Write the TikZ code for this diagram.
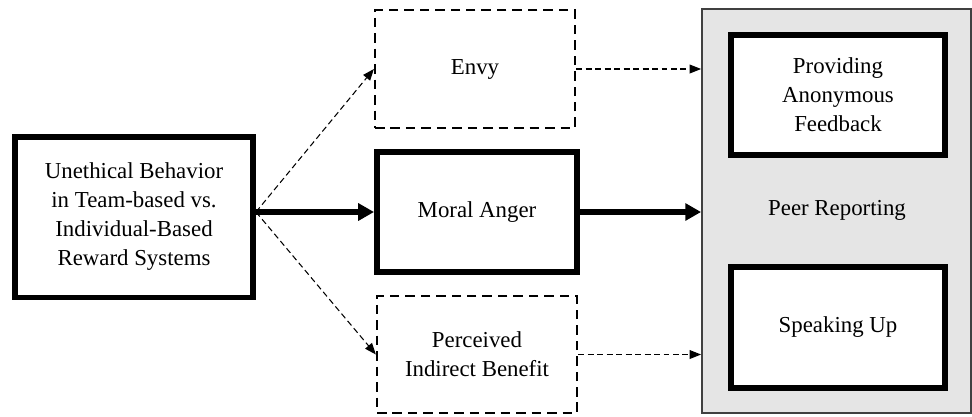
\documentclass[tikz,border=0pt]{standalone}
\usepackage{fontspec}
\setmainfont{Liberation Serif}
\usepackage{tikz}
\usetikzlibrary{arrows.meta}
\usetikzlibrary{positioning,calc}
\tikzset{
    solidbox/.style={
        draw,
        rectangle,
        fill=white,
        line width=3.4pt,
        align=center,
        inner sep=2pt
    },
    dashbox/.style={
        draw,
        rectangle,
        line width=1.3pt,
        dash pattern=on 5.4pt off 3.4pt,
        align=center,
        minimum width=4cm
    },
    dasharrow/.style={
        draw,
        line width=0.6pt,
        dash pattern=on 3.4pt off 2pt,
        -{Triangle[length=6.5pt, width=5pt]}
    },
    boldarrow/.style={
        draw,
        line width=3.4pt,
        -{Triangle[length=9pt, width=9.5pt]}
    }
}
\tikzset{
  every node/.style={font=\fontsize{13}{16.5}\selectfont}
}
\usepackage{xcolor}
\definecolor{panelgray}{HTML}{E5E5E5}
\definecolor{panelline}{HTML}{404040}

\begin{document}
\begin{tikzpicture}[x=0.02cm, y=-0.02cm]
  \useasboundingbox (0,0) rectangle (972,416);

  % Outcome panel
  \node[draw=panelline, fill=panelgray, line width=1.1pt, minimum width=5.38cm, minimum height=8.08cm] (peer) at (836.5,211) {};
  \node (peerlbl) at (837,210) {Peer Reporting};
  \node[solidbox, minimum width=4.28cm, minimum height=2.4cm] (feedback) at (838,95) {Providing\\Anonymous\\Feedback};
  \node[solidbox, minimum width=4.28cm, minimum height=2.42cm] (speak) at (838,327.5) {Speaking Up};

  % Predictor and mediators
  \node[solidbox, minimum width=4.76cm, minimum height=3.22cm] (unethical) at (134,217) {Unethical Behavior\\in Team-based vs.\\Individual-Based\\Reward Systems};
  \node[dashbox, minimum height=2.36cm] (envy) at (475,69) {Envy};
  \node[solidbox, minimum width=4cm, minimum height=2.4cm] (anger) at (477,212) {Moral Anger};
  \node[dashbox, minimum height=2.34cm] (benefit) at (477,354.5) {Perceived\\Indirect Benefit};
  \coordinate (src) at (unethical.east |- anger.west);

  % Paths
  \draw[dasharrow] (src) -- (envy.west);
  \draw[boldarrow] (src) -- (anger.west);
  \draw[dasharrow] (src) -- (benefit.west);
  \draw[dasharrow] (envy.east) -- (envy.east -| peer.west);
  \draw[boldarrow] (anger.east) -- (anger.east -| peer.west);
  \draw[dasharrow] (benefit.east) -- (benefit.east -| peer.west);
\end{tikzpicture}
\end{document}
